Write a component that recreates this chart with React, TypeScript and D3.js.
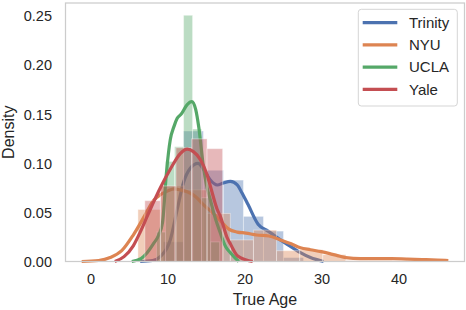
import React, { useEffect, useRef } from 'react';
import * as d3 from 'd3';

const width = 466;
const height = 310;
const margin = { top: 3, left: 65.5, bottom: 48.5, right: 1.5 };

const groups = ["Trinity", "NYU", "UCLA", "Yale"];
const colors = ["#4c72b0", "#dd8452", "#55a868", "#c44e52"];

const xTicks = [0, 10, 20, 30, 40];
const yTicks = [0, 0.05, 0.1, 0.15, 0.2, 0.25];

// histogram bins (edges) and densities
const trinityEdges = [9.4, 12.0, 14.6, 17.2, 19.8, 22.4, 25.0, 27.6];
const trinityDensity = [0.02, 0.133, 0.093, 0.083, 0.046, 0.031, 0.004];
const nyuEdges = [6.1, 9.1, 12.1, 15.1, 18.1, 21.1, 24.1, 27.1, 30.1, 33.1, 36.1, 39.1];
const nyuDensity = [0.053, 0.077, 0.073, 0.049, 0.022, 0.032, 0.011, 0.012, 0.007, 0.001, 0.001];
const uclaEdges = [8.52, 9.69, 10.86, 12.03, 13.2, 14.37, 15.54, 16.71];
const uclaDensity = [0.03, 0.102, 0.117, 0.251, 0.135, 0.065, 0.02];
const yaleEdges = [7.0, 9.02, 11.04, 13.06, 15.08, 17.1];
const yaleDensity = [0.062, 0.077, 0.116, 0.125, 0.115];

// kde curves
const trinityKdeX = [6.4, 8.0, 9.0, 10.3, 11.2, 12.0, 12.9, 13.9, 14.7, 15.5, 16.4, 17.2, 18.1, 19.0, 19.6, 20.4, 21.7, 23.0, 24.6, 26.0, 27.2, 28.5, 30.2];
const trinityKdeY = [0, 0.001, 0.005, 0.022, 0.053, 0.08, 0.095, 0.1, 0.093, 0.083, 0.078, 0.08, 0.0816, 0.078, 0.07, 0.058, 0.038, 0.031, 0.022, 0.015, 0.009, 0.004, 0];
const nyuKdeX = [-1.2, 1.0, 2.5, 4.0, 5.5, 7.0, 8.1, 9.0, 10.0, 10.8, 11.6, 12.5, 13.6, 14.6, 15.9, 17.0, 17.9, 19.0, 20.1, 21.5, 23.1, 24.6, 26.0, 27.2, 28.5, 29.9, 31.0, 32.0, 33.1, 35.0, 37.0, 39.0, 41.0, 43.0, 45.0, 46.4];
const nyuKdeY = [0, 0.001, 0.004, 0.011, 0.027, 0.047, 0.062, 0.068, 0.072, 0.074, 0.073, 0.071, 0.066, 0.058, 0.049, 0.04, 0.033, 0.03, 0.029, 0.027, 0.026, 0.022, 0.018, 0.014, 0.012, 0.01, 0.008, 0.006, 0.004, 0.003, 0.003, 0.003, 0.0025, 0.002, 0.0015, 0.001];
const uclaKdeX = [5.3, 6.5, 7.3, 8.1, 8.8, 9.3, 9.8, 10.3, 10.8, 11.2, 11.7, 12.5, 13.1, 13.6, 14.0, 14.6, 15.0, 15.5, 16.0, 16.8, 17.5, 18.1, 19.2];
const uclaKdeY = [0, 0.003, 0.009, 0.018, 0.027, 0.04, 0.09, 0.124, 0.138, 0.146, 0.15, 0.16, 0.163, 0.155, 0.137, 0.097, 0.078, 0.063, 0.048, 0.029, 0.015, 0.009, 0];
const yaleKdeX = [3.1, 4.3, 5.5, 6.4, 7.3, 8.1, 9.0, 10.3, 11.6, 12.5, 13.3, 14.2, 15.1, 15.5, 16.4, 16.8, 17.7, 18.1, 19.0, 19.4, 21.0];
const yaleKdeY = [0, 0.005, 0.016, 0.03, 0.046, 0.06, 0.075, 0.094, 0.11, 0.1145, 0.112, 0.104, 0.088, 0.077, 0.053, 0.046, 0.024, 0.018, 0.006, 0.004, 0];

const series = [
    { edges: trinityEdges, dens: trinityDensity, kx: trinityKdeX, ky: trinityKdeY },
    { edges: nyuEdges, dens: nyuDensity, kx: nyuKdeX, ky: nyuKdeY },
    { edges: uclaEdges, dens: uclaDensity, kx: uclaKdeX, ky: uclaKdeY },
    { edges: yaleEdges, dens: yaleDensity, kx: yaleKdeX, ky: yaleKdeY },
];

const font = "'Liberation Sans', Arial, sans-serif";
const textColor = "#262626";

const App = () => {
    const ref = useRef<SVGSVGElement>(null);

    useEffect(() => {
        const svg = d3.select(ref.current);
        svg.selectAll("*").remove();

        const x = d3.scaleLinear()
            .domain([-3.3, 48.5])
            .range([margin.left, width - margin.right]);
        const y = d3.scaleLinear()
            .domain([0, 0.2635])
            .range([height - margin.bottom, margin.top]);

        const line = d3.line<[number, number]>()
            .x(d => x(d[0]))
            .y(d => y(d[1]))
            .curve(d3.curveMonotoneX);

        series.forEach((s, i) => {
            const bins = s.dens.map((v, j) => ({ x0: s.edges[j], x1: s.edges[j + 1], v }));
            svg.append("g")
                .selectAll("rect")
                .data(bins)
                .join("rect")
                .attr("x", d => x(d.x0))
                .attr("y", d => y(d.v))
                .attr("width", d => x(d.x1) - x(d.x0))
                .attr("height", d => y(0) - y(d.v))
                .attr("fill", colors[i])
                .attr("fill-opacity", 0.4)
                .attr("stroke", "white")
                .attr("stroke-opacity", 0.4)
                .attr("stroke-width", 1);

            const pts = s.kx.map((v, j) => [v, s.ky[j]] as [number, number]);
            svg.append("path")
                .attr("d", line(pts))
                .attr("fill", "none")
                .attr("stroke", colors[i])
                .attr("stroke-width", 3.2)
                .attr("stroke-linejoin", "round");
        });

        // frame
        svg.append("rect")
            .attr("x", margin.left)
            .attr("y", margin.top)
            .attr("width", width - margin.left - margin.right)
            .attr("height", height - margin.top - margin.bottom)
            .attr("fill", "none")
            .attr("stroke", "#cccccc")
            .attr("stroke-width", 1.25);

        svg.append("g")
            .selectAll("text")
            .data(yTicks)
            .join("text")
            .attr("x", 52)
            .attr("y", d => y(d) + 5.2)
            .attr("text-anchor", "end")
            .attr("font-family", font)
            .attr("font-size", 14.5)
            .attr("fill", textColor)
            .text(d => d3.format(".2f")(d));

        svg.append("g")
            .selectAll("text")
            .data(xTicks)
            .join("text")
            .attr("x", d => x(d))
            .attr("y", 284)
            .attr("text-anchor", "middle")
            .attr("font-family", font)
            .attr("font-size", 14.5)
            .attr("fill", textColor)
            .text(d => d);

        svg.append("text")
            .attr("x", (margin.left + width - margin.right) / 2)
            .attr("y", 304.5)
            .attr("text-anchor", "middle")
            .attr("font-family", font)
            .attr("font-size", 16)
            .attr("fill", textColor)
            .text("True Age");

        svg.append("text")
            .attr("transform", `translate(13.5,${(margin.top + height - margin.bottom) / 2}) rotate(-90)`)
            .attr("text-anchor", "middle")
            .attr("font-family", font)
            .attr("font-size", 16)
            .attr("fill", textColor)
            .text("Density");

        // legend
        const legend = svg.append("g").attr("transform", "translate(358.3,9.3)");
        legend.append("rect")
            .attr("width", 99)
            .attr("height", 96.7)
            .attr("rx", 3)
            .attr("fill", "white")
            .attr("fill-opacity", 0.8)
            .attr("stroke", "#d5d5d5")
            .attr("stroke-width", 1);

        const item = legend.selectAll("g.item")
            .data(groups)
            .join("g")
            .attr("class", "item")
            .attr("transform", (d, i) => `translate(0,${13.4 + i * 22.2})`);
        item.append("line")
            .attr("x1", 4.4)
            .attr("x2", 39)
            .attr("stroke", (d, i) => colors[i])
            .attr("stroke-width", 3.2);
        item.append("text")
            .attr("x", 50.7)
            .attr("y", 5.3)
            .attr("font-family", font)
            .attr("font-size", 15)
            .attr("fill", textColor)
            .text(d => d);
    }, []);

    return (
        <svg ref={ref} width={width} height={height}
            style={{ position: "absolute", left: 0, top: 0, background: "white" }}></svg>
    );
};

export default App;
